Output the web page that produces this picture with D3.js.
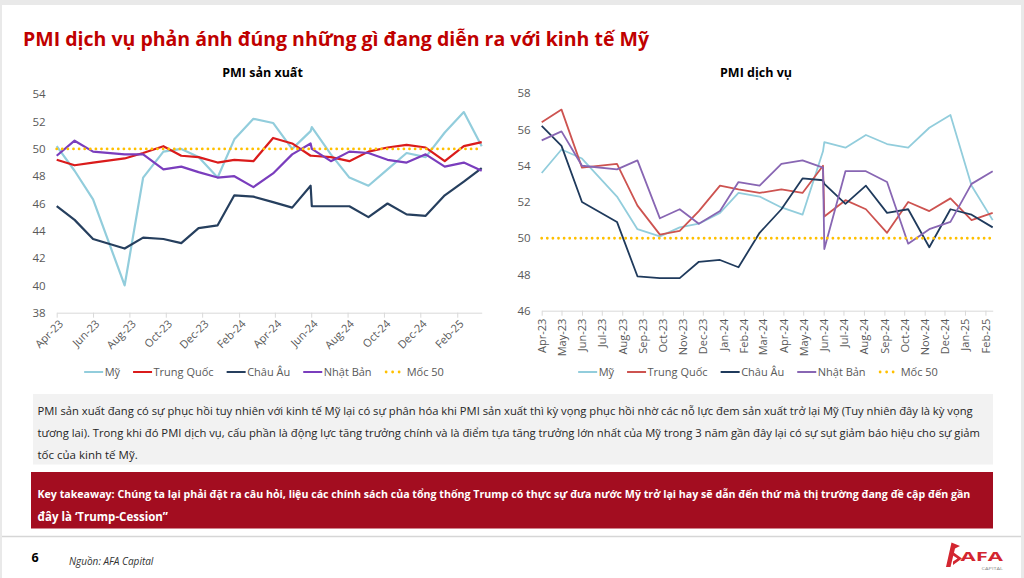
<!DOCTYPE html>
<html>
<head>
<meta charset="utf-8">
<script src="https://cdn.jsdelivr.net/npm/d3@7"></script>
<style>
  body { margin: 0; background: #fff; }
  svg { display: block; font-family: "Open Sans", "Noto Sans", sans-serif; }
</style>
</head>
<body>
<script>
// ---- data ----
// observation dates (the source sheet spaces them unevenly, May-24/Jun-24 almost touch)
const obsDates = [
  '2023-04-01', '2023-05-01', '2023-06-01', '2023-07-24', '2023-08-24', '2023-09-27',
  '2023-10-27', '2023-11-25', '2023-12-27', '2024-01-24', '2024-02-25', '2024-03-29',
  '2024-04-30', '2024-05-31', '2024-06-02', '2024-07-04', '2024-08-04', '2024-09-05',
  '2024-10-07', '2024-11-08', '2024-12-10', '2025-01-11', '2025-02-12', '2025-03-14'
];

const seriesNames = ['Mỹ', 'Trung Quốc', 'Châu Âu', 'Nhật Bản'];
const refLabel = 'Mốc 50';
const refValue = 50;

// PMI sản xuất (Apr-23 .. Mar-25)
const mfgUS = [50.2, 48.4, 46.3, 40.0, 47.9, 49.8, 50.0, 49.4, 47.9, 50.7, 52.2, 51.9,
               50.0, 51.3, 51.6, 49.6, 47.9, 47.3, 48.5, 49.7, 49.4, 51.2, 52.7, 50.2];
const mfgCN = [49.2, 48.8, 49.0, 49.3, 49.7, 50.2, 49.5, 49.4, 49.0, 49.2, 49.1, 50.8,
               50.4, 49.5, 49.5, 49.4, 49.1, 49.8, 50.1, 50.3, 50.1, 49.1, 50.2, 50.5];
const mfgEU = [45.8, 44.8, 43.4, 42.7, 43.5, 43.4, 43.1, 44.2, 44.4, 46.6, 46.5, 46.1,
               45.7, 47.3, 45.8, 45.8, 45.8, 45.0, 46.0, 45.2, 45.1, 46.6, 47.6, 48.6];
const mfgJP = [49.5, 50.6, 49.8, 49.6, 49.6, 48.5, 48.7, 48.3, 47.9, 48.0, 47.2, 48.2,
               49.6, 50.4, 50.0, 49.1, 49.8, 49.7, 49.2, 49.0, 49.6, 48.7, 49.0, 48.4];

// PMI dịch vụ (Apr-23 .. Feb-25)
const svcUS = [53.6, 54.9, 54.4, 52.3, 50.5, 50.1, 50.6, 50.8, 51.4, 52.5, 52.3, 51.7,
               51.3, 54.8, 55.3, 55.0, 55.7, 55.2, 55.0, 56.1, 56.8, 52.9, 51.0];
const svcCN = [56.4, 57.1, 53.9, 54.1, 51.8, 50.2, 50.4, 51.5, 52.9, 52.7, 52.5, 52.7,
               52.5, 54.0, 51.2, 52.1, 51.6, 50.3, 52.0, 51.5, 52.2, 51.0, 51.4];
const svcEU = [56.2, 55.1, 52.0, 50.9, 47.9, 47.8, 47.8, 48.7, 48.8, 48.4, 50.3, 51.6,
               53.3, 53.2, 53.0, 51.9, 52.9, 51.4, 51.6, 49.5, 51.6, 51.3, 50.6];
const svcJP = [55.4, 55.9, 54.0, 53.8, 54.3, 51.1, 51.6, 50.8, 51.5, 53.1, 52.9, 54.1,
               54.3, 53.9, 49.4, 53.7, 53.7, 53.1, 49.7, 50.5, 50.9, 53.0, 53.7];

const mfgTicksY = [38, 40, 42, 44, 46, 48, 50, 52, 54];
const svcTicksY = [46, 48, 50, 52, 54, 56, 58];
const mfgTickLabels = ['Apr-23', 'Jun-23', 'Aug-23', 'Oct-23', 'Dec-23', 'Feb-24',
                       'Apr-24', 'Jun-24', 'Aug-24', 'Oct-24', 'Dec-24', 'Feb-25'];
const svcTickLabels = ['Apr-23', 'May-23', 'Jun-23', 'Jul-23', 'Aug-23', 'Sep-23', 'Oct-23',
                       'Nov-23', 'Dec-23', 'Jan-24', 'Feb-24', 'Mar-24', 'Apr-24', 'May-24',
                       'Jun-24', 'Jul-24', 'Aug-24', 'Sep-24', 'Oct-24', 'Nov-24', 'Dec-24',
                       'Jan-25', 'Feb-25'];

const pageTitle = 'PMI dịch vụ phản ánh đúng những gì đang diễn ra với kinh tế Mỹ';
const noteLines = [
  'PMI sản xuất đang có sự phục hồi tuy nhiên với kinh tế Mỹ lại có sự phân hóa khi PMI sản xuất thì kỳ vọng phục hồi nhờ các nỗ lực đem sản xuất trở lại Mỹ (Tuy nhiên đây là kỳ vọng',
  'tương lai). Trong khi đó PMI dịch vụ, cấu phần là động lực tăng trưởng chính và là điểm tựa tăng trưởng lớn nhất của Mỹ trong 3 năm gần đây lại có sự sụt giảm báo hiệu cho sự giảm',
  'tốc của kinh tế Mỹ.'
];
const takeawayLines = [
  'Key takeaway: Chúng ta lại phải đặt ra câu hỏi, liệu các chính sách của tổng thống Trump có thực sự đưa nước Mỹ trở lại hay sẽ dẫn đến thứ mà thị trường đang đề cập đến gần',
  'đây là ‘Trump-Cession”'
];
const sourceText = 'Nguồn: AFA Capital';
const pageNumber = '6';

// ---- page ----
const W = 1024, H = 578;
const parseDate = d3.utcParse('%Y-%m-%d');
const parseTick = d3.utcParse('%b-%y');
const fmtTick = d3.utcFormat('%b-%y');

const svg = d3.select('body').append('svg')
    .attr('width', W)
    .attr('height', H);

svg.append('rect').attr('width', W).attr('height', H).attr('fill', '#e9e9e9');
svg.append('rect').attr('x', 2).attr('y', 5).attr('width', W - 5).attr('height', H - 5).attr('fill', '#fff');

// squeeze glyphs of a text to a width if it runs longer
const squeeze = (sel, w) => sel.each(function () {
    if (this.getComputedTextLength() > w) {
        d3.select(this).attr('textLength', w).attr('lengthAdjust', 'spacingAndGlyphs');
    }
});
// shrink the font of a text until it fits a width
const shrink = (sel, w) => sel.each(function () {
    const len = this.getComputedTextLength();
    if (len > w) {
        const fs = parseFloat(d3.select(this).attr('font-size'));
        d3.select(this).attr('font-size', (fs * w / len).toFixed(2));
    }
});

svg.append('text')
    .attr('x', 23).attr('y', 46)
    .attr('font-size', 20).attr('font-weight', 'bold')
    .attr('fill', '#C00000')
    .text(pageTitle)
    .call(squeeze, 626);

// ---- chart builder ----
const drawChart = (o) => {
    const pts = o.dates.map(parseDate);
    const x = d3.scaleUtc().domain(d3.extent(pts)).range(o.xRange);
    const y = d3.scaleLinear().domain(d3.extent(o.yTicks)).range(o.yRange);
    const g = svg.append('g');

    // title
    g.append('text')
        .attr('x', o.titleX).attr('y', 77)
        .attr('text-anchor', 'middle')
        .attr('font-size', 12.5).attr('font-weight', 'bold')
        .attr('fill', '#000')
        .text(o.title);

    // y axis
    const yAxisGroup = g.append('g')
        .attr('transform', `translate(${o.xRange[0]},0)`)
        .call(d3.axisLeft(y).tickValues(o.yTicks).tickSize(0).tickPadding(11));
    yAxisGroup.attr('font-family', null).attr('font-size', null);
    yAxisGroup.select('.domain').remove();
    yAxisGroup.selectAll('text').attr('font-size', 11.5).attr('fill', '#595959');

    // x axis
    const xAxis = d3.axisBottom(x)
        .tickValues(o.tickLabels.map(parseTick))
        .tickFormat(fmtTick)
        .tickSize(5)
        .tickSizeOuter(0);
    const xAxisGroup = g.append('g')
        .attr('transform', `translate(0,${o.yRange[0]})`)
        .call(xAxis);
    xAxisGroup.attr('font-family', null).attr('font-size', null);
    xAxisGroup.select('.domain').attr('stroke', '#d9d9d9');
    xAxisGroup.selectAll('.tick line').attr('stroke', '#d9d9d9');
    xAxisGroup.selectAll('.tick text')
        .attr('font-size', 11).attr('fill', '#595959')
        .attr('x', 0).attr('y', 0).attr('dy', '0.35em')
        .attr('text-anchor', 'end')
        .attr('transform', o.rotate === -90 ? 'translate(0,8) rotate(-90)' : 'translate(4,9) rotate(-45)');

    // lines
    const line = d3.line()
        .x((d, i) => x(pts[i]))
        .y(d => y(d));
    o.series.forEach(s => {
        g.append('path')
            .datum(s.values)
            .attr('fill', 'none')
            .attr('stroke', s.color)
            .attr('stroke-width', o.lw)
            .attr('stroke-linejoin', 'round')
            .attr('d', line);
    });

    // 50 mark
    g.append('line')
        .attr('x1', x(pts[0])).attr('x2', x(pts[pts.length - 1]))
        .attr('y1', y(refValue)).attr('y2', y(refValue))
        .attr('stroke', '#FFC000')
        .attr('stroke-width', 2.8)
        .attr('stroke-linecap', 'round')
        .attr('stroke-dasharray', '0 5.6');

    // legend
    const leg = g.append('g');
    let cx = 0;
    o.series.forEach(s => {
        leg.append('line')
            .attr('x1', cx).attr('x2', cx + 19).attr('y1', 0).attr('y2', 0)
            .attr('stroke', s.color).attr('stroke-width', 2);
        const t = leg.append('text')
            .attr('x', cx + 20.5).attr('y', 0).attr('dy', '0.35em')
            .attr('font-size', 11).attr('fill', '#595959')
            .text(s.name);
        cx += 20.5 + t.node().getComputedTextLength() + 13;
    });
    leg.append('line')
        .attr('x1', cx + 1.5).attr('x2', cx + 17).attr('y1', 0).attr('y2', 0)
        .attr('stroke', '#FFC000').attr('stroke-width', 2.8)
        .attr('stroke-linecap', 'round').attr('stroke-dasharray', '0 6.5');
    const rt = leg.append('text')
        .attr('x', cx + 22).attr('y', 0).attr('dy', '0.35em')
        .attr('font-size', 11).attr('fill', '#595959')
        .text(refLabel);
    cx += 22 + rt.node().getComputedTextLength();
    leg.attr('transform', `translate(${o.legendCenter - cx / 2},372)`);
};

drawChart({
    title: 'PMI sản xuất',
    titleX: 262.5,
    dates: obsDates,
    xRange: [56.7, 481.7],
    yRange: [312.7, 94.3],
    yTicks: mfgTicksY,
    tickLabels: mfgTickLabels,
    rotate: -45,
    lw: 2.2,
    legendCenter: 264,
    series: [
        { name: seriesNames[0], values: mfgUS, color: '#92CDDC' },
        { name: seriesNames[1], values: mfgCN, color: '#DA1B1B' },
        { name: seriesNames[2], values: mfgEU, color: '#263F5E' },
        { name: seriesNames[3], values: mfgJP, color: '#7A3DBD' }
    ]
});

drawChart({
    title: 'PMI dịch vụ',
    titleX: 756,
    dates: obsDates.slice(0, svcUS.length),
    xRange: [541.7, 992.7],
    yRange: [310.7, 93.3],
    yTicks: svcTicksY,
    tickLabels: svcTickLabels,
    rotate: -90,
    lw: 1.8,
    legendCenter: 758,
    series: [
        { name: seriesNames[0], values: svcUS, color: '#92CDDC' },
        { name: seriesNames[1], values: svcCN, color: '#CD5350' },
        { name: seriesNames[2], values: svcEU, color: '#1F3A5C' },
        { name: seriesNames[3], values: svcJP, color: '#8866B3' }
    ]
});

// ---- commentary boxes ----
svg.append('rect').attr('x', 33).attr('y', 394).attr('width', 960).attr('height', 70.5).attr('fill', '#F2F2F2');
const noteWidths = [935, 943, 0];
noteLines.forEach((t, i) => {
    svg.append('text')
        .attr('x', 37.5).attr('y', 414.5 + i * 22.2)
        .attr('font-size', 11.5).attr('fill', '#262626')
        .text(t)
        .call(shrink, noteWidths[i] || 999);
});

svg.append('rect').attr('x', 31).attr('y', 472).attr('width', 962).attr('height', 56.5).attr('fill', '#A30D20');
const takeWidths = [934, 0];
takeawayLines.forEach((t, i) => {
    svg.append('text')
        .attr('x', 37.5).attr('y', 498 + i * 22.5)
        .attr('font-size', 11.5).attr('font-weight', 'bold').attr('fill', '#fff')
        .text(t)
        .call(shrink, takeWidths[i] || 999);
});

// ---- footer ----
svg.append('line').attr('x1', 2).attr('x2', W - 3).attr('y1', 536.5).attr('y2', 536.5)
    .attr('stroke', '#d6d6d6').attr('stroke-width', 1.5);
svg.append('text').attr('x', 31.5).attr('y', 561.5)
    .attr('font-size', 12.5).attr('font-weight', 'bold').attr('fill', '#000')
    .text(pageNumber);
svg.append('text').attr('x', 69).attr('y', 565)
    .attr('font-size', 10).attr('font-style', 'italic').attr('fill', '#333')
    .text(sourceText)
    .call(shrink, 91);

// logo
const logo = svg.append('g').attr('fill', '#D32630');
logo.append('path').attr('d', 'M946,567 L951.5,542.5 L960,546 L955,548.5 L950.5,567 Z');
logo.append('path').attr('d', 'M953,552 L962,558.5 L953,565 L953,561.5 L957.5,558.5 L953,555.5 Z');
logo.append('text').attr('x', 960.5).attr('y', 561)
    .attr('font-size', 12).attr('font-weight', 'bold')
    .attr('textLength', 42.5).attr('lengthAdjust', 'spacingAndGlyphs')
    .text('AFA');
svg.append('text').attr('x', 981.5).attr('y', 569.5)
    .attr('font-size', 3.5).attr('fill', '#888')
    .attr('textLength', 21.5).attr('lengthAdjust', 'spacingAndGlyphs')
    .text('CAPITAL');
</script>
</body>
</html>
